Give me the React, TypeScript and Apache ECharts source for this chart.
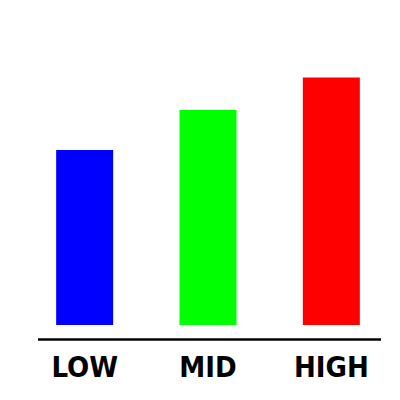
import { useEffect, useRef } from 'react'
import * as echarts from 'echarts'

const categories = ['LOW', 'MID', 'HIGH']
const values = [35, 43, 49.5]
const barColors = ['#0000ff', '#00ff00', '#ff0000']

export default function App() {
  const chartRef = useRef<HTMLDivElement>(null)

  useEffect(() => {
    if (!chartRef.current) return
    const chart = echarts.init(chartRef.current, undefined, { renderer: 'svg' })

    const option: echarts.EChartsOption = {
      animation: false,
      backgroundColor: '#ffffff',
      grid: { left: 23, right: 7, top: 0, bottom: 75, containLabel: false },
      // baseline drawn separately, it is longer than the bars' band area
      graphic: [
        {
          type: 'line',
          shape: { x1: 38, y1: 339.5, x2: 381, y2: 339.5 },
          style: { stroke: '#000000', lineWidth: 2.5 },
        },
      ],
      xAxis: {
        type: 'category',
        data: categories,
        offset: 14.5,
        axisLine: { show: false },
        axisTick: { show: false },
        axisLabel: {
          margin: 13,
          color: '#000000',
          fontFamily: '"DejaVu Sans Condensed", "Liberation Sans", sans-serif',
          fontWeight: 'bold',
          fontSize: 29,
        },
      },
      yAxis: {
        type: 'value',
        min: 0,
        max: 65,
        show: false,
        splitLine: { show: false },
      },
      series: [
        {
          type: 'bar',
          barWidth: 57,
          data: values.map((v, i) => ({ value: v, itemStyle: { color: barColors[i] } })),
        },
      ],
    }

    chart.setOption(option)
    return () => chart.dispose()
  }, [])

  return <div ref={chartRef} style={{ width: 400, height: 400, margin: -8 }} />
}
